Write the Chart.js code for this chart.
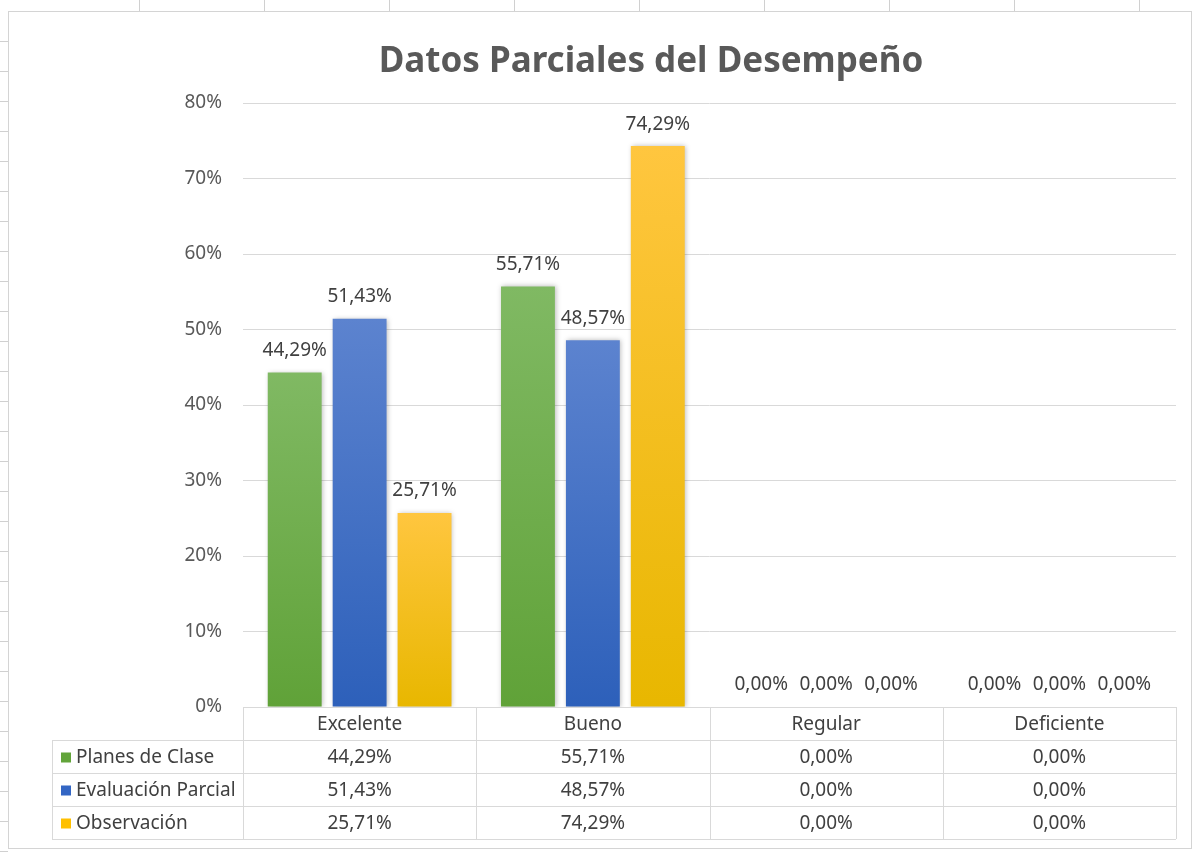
<!DOCTYPE html>
<html>
<head>
<meta charset="utf-8">
<script src="https://cdn.jsdelivr.net/npm/chart.js@4.4.1/dist/chart.umd.min.js"></script>
<style>
  html, body { margin: 0; padding: 0; background: #fff; }
  body { width: 1200px; height: 852px; position: relative; overflow: hidden; }
  #frame {
    position: absolute; left: 8px; top: 11px; width: 1182px; height: 836px;
    border: 1px solid #d4d4d4; background: #fff;
  }
  #topticks {
    position: absolute; left: 15px; top: 0; width: 1185px; height: 11px;
    background: repeating-linear-gradient(90deg, transparent 0 124px, #d0d0d0 124px 125px);
  }
  #leftticks {
    position: absolute; left: 0; top: 12px; width: 8px; height: 840px;
    background: repeating-linear-gradient(180deg, transparent 0 29px, #d0d0d0 29px 30px);
  }
  #wrap { position: absolute; left: 0; top: 0; width: 1200px; height: 852px; }
</style>
</head>
<body>
<div id="topticks"></div>
<div id="leftticks"></div>
<div id="frame"></div>
<div id="wrap"><canvas id="desempeno" width="1200" height="852"></canvas></div>
<script>
const categories = ["Excelente", "Bueno", "Regular", "Deficiente"];
const seriesNames = ["Planes de Clase", "Evaluación Parcial", "Observación"];
const planesDeClase = [44.29, 55.71, 0, 0];
const evaluacionParcial = [51.43, 48.57, 0, 0];
const observacion = [25.71, 74.29, 0, 0];

// top / bottom colours of each bar gradient
const topColors = ["#80b963", "#5c83cf", "#ffc63f"];
const bottomColors = ["#60a238", "#2d60ba", "#e8b700"];
const swatchColors = ["#62a43a", "#3366c4", "#ffc000"];

const fontFamily = "'Noto Sans', 'Open Sans', sans-serif";
const labelFont = "19px " + fontFamily;
const fmt = (v) => v.toFixed(2).replace(".", ",") + "%";

// vertical gradient per bar
function barGradient(i) {
  return (ctx) => {
    const chart = ctx.chart;
    const y = chart.scales.y;
    if (!chart.chartArea || ctx.parsed === undefined || !y) return bottomColors[i];
    const top = y.getPixelForValue(ctx.parsed.y);
    const bottom = y.getPixelForValue(0);
    if (bottom - top < 1) return bottomColors[i];
    const g = chart.ctx.createLinearGradient(0, top, 0, bottom);
    g.addColorStop(0, topColors[i]);
    g.addColorStop(1, bottomColors[i]);
    return g;
  };
}

const barShadow = {
  id: "barShadow",
  beforeDatasetsDraw(chart) {
    const c = chart.ctx;
    c.save();
    c.shadowColor = "rgba(0,0,0,0.28)";
    c.shadowBlur = 5;
    c.shadowOffsetX = 1;
    c.shadowOffsetY = 0;
  },
  afterDatasetsDraw(chart) {
    chart.ctx.restore();
  }
};

// value labels above the bars
const valueLabels = {
  id: "valueLabels",
  afterDatasetsDraw(chart) {
    const c = chart.ctx;
    c.save();
    c.font = labelFont;
    c.fillStyle = "#404040";
    c.textAlign = "center";
    c.textBaseline = "middle";
    chart.data.datasets.forEach((ds, di) => {
      chart.getDatasetMeta(di).data.forEach((bar, idx) => {
        c.fillText(fmt(ds.data[idx]), bar.x, bar.y - 22);
      });
    });
    c.restore();
  }
};

// Excel style data table under the plot
const dataTable = {
  id: "dataTable",
  afterDraw(chart) {
    const c = chart.ctx;
    const x = chart.scales.x;
    const area = chart.chartArea;
    const rowH = 33;
    const legendLeft = 52;
    const y0 = area.bottom;
    const nRows = chart.data.datasets.length;
    const tableBottom = y0 + rowH * (nRows + 1);
    const step = x.getPixelForValue(1) - x.getPixelForValue(0);
    const edges = categories.map((_, i) => x.getPixelForValue(i) - step / 2);
    edges.push(area.right);

    c.save();
    c.strokeStyle = "#d9d9d9";
    c.lineWidth = 1;
    c.beginPath();
    // horizontal lines
    c.moveTo(area.left, Math.round(y0) + 0.5); c.lineTo(area.right, Math.round(y0) + 0.5);
    for (let r = 1; r <= nRows + 1; r++) {
      const yy = Math.round(y0 + rowH * r) + 0.5;
      c.moveTo(legendLeft, yy); c.lineTo(area.right, yy);
    }
    // vertical lines
    edges.forEach((e) => {
      const xx = Math.round(e) + 0.5;
      c.moveTo(xx, y0); c.lineTo(xx, tableBottom);
    });
    c.moveTo(legendLeft + 0.5, y0 + rowH); c.lineTo(legendLeft + 0.5, tableBottom);
    c.stroke();

    c.font = labelFont;
    c.fillStyle = "#404040";
    c.textBaseline = "middle";
    c.textAlign = "center";
    categories.forEach((cat, i) => {
      c.fillText(cat, x.getPixelForValue(i), y0 + rowH / 2 + 1);
    });
    chart.data.datasets.forEach((ds, di) => {
      const cy = y0 + rowH * (di + 1) + rowH / 2 + 1;
      c.textAlign = "center";
      c.fillStyle = "#404040";
      ds.data.forEach((v, i) => c.fillText(fmt(v), x.getPixelForValue(i), cy));
      c.fillStyle = swatchColors[di];
      c.fillRect(legendLeft + 9, cy - 5, 10, 10);
      c.fillStyle = "#404040";
      c.textAlign = "left";
      c.fillText(ds.label, legendLeft + 24, cy);
    });
    c.restore();
  }
};

const datasets = [planesDeClase, evaluacionParcial, observacion].map((values, i) => ({
  label: seriesNames[i],
  data: values,
  backgroundColor: barGradient(i),
  borderWidth: 0,
  barPercentage: 0.83,
  categoryPercentage: 0.835
}));

new Chart(document.getElementById("desempeno"), {
  type: "bar",
  data: { labels: categories, datasets: datasets },
  plugins: [barShadow, valueLabels, dataTable],
  options: {
    responsive: false,
    animation: false,
    devicePixelRatio: 1,
    layout: { padding: { left: 126, right: 24, top: 0, bottom: 145 } },
    scales: {
      x: {
        display: false
      },
      y: {
        min: 0,
        max: 80,
        ticks: {
          stepSize: 10,
          padding: 21,
          color: "#595959",
          font: { size: 19, family: fontFamily },
          callback: (v) => v + "%"
        },
        grid: { color: "#d9d9d9", drawTicks: false },
        border: { display: false },
        afterFit: (scale) => { scale.width = 117; }
      }
    },
    plugins: {
      legend: { display: false },
      tooltip: { enabled: false },
      title: {
        display: true,
        text: "Datos Parciales del Desempeño",
        color: "#595959",
        font: { size: 35, weight: "bold", family: fontFamily },
        padding: { top: 41, bottom: 20 }
      }
    }
  }
});
</script>
</body>
</html>
